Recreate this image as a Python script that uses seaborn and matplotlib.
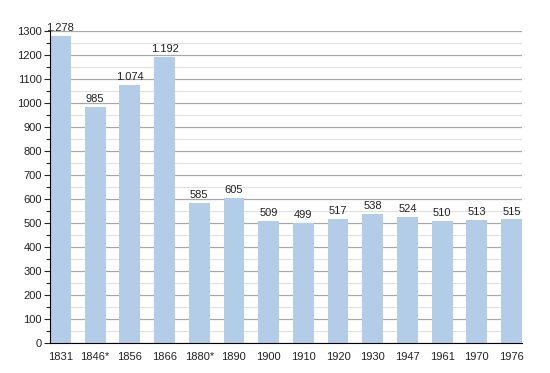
import seaborn as sns
import matplotlib.pyplot as plt
import pandas as pd
from matplotlib.ticker import MultipleLocator

# Population by census year
years = ["1831", "1846*", "1856", "1866", "1880*", "1890", "1900", "1910",
         "1920", "1930", "1947", "1961", "1970", "1976"]
population = [1278, 985, 1074, 1192, 585, 605, 509, 499, 517, 538, 524, 510, 513, 515]

data = pd.DataFrame({"year": years, "pop": population})

sns.set_style("white")
plt.rcParams["font.family"] = ["Liberation Sans", "DejaVu Sans"]

fig = plt.figure(figsize=(5.5, 3.73), dpi=100)
ax = fig.add_axes([0.091, 0.080, 0.858, 0.837])

# grid lines behind bars
ax.set_axisbelow(True)
ax.yaxis.set_major_locator(MultipleLocator(100))
ax.yaxis.set_minor_locator(MultipleLocator(50))
ax.grid(axis="y", which="major", color="#a8a8a8", linewidth=0.9)
ax.grid(axis="y", which="minor", color="#e0e0e0", linewidth=0.8)

sns.barplot(x="year", y="pop", data=data, color="#b3cde8", width=0.6,
            saturation=1, linewidth=0, ax=ax)

for i, v in enumerate(population):
    label = f"{v:,}".replace(",", ".")
    ax.text(i, v + 12, label, ha="center", va="bottom", fontsize=8,
            color="#222222", clip_on=False)

ax.set_ylim(0, 1300)
ax.set_xlim(-0.3, len(years) - 0.7)
ax.set_xlabel("")
ax.set_ylabel("")

for s in ["top", "right"]:
    ax.spines[s].set_visible(False)
ax.spines["left"].set_color("black")
ax.spines["bottom"].set_color("black")

ax.tick_params(axis="y", which="major", left=True, length=4, width=0.8,
               labelsize=8, pad=2, labelcolor="#222222")
ax.tick_params(axis="y", which="minor", left=True, length=3, width=0.8)
ax.tick_params(axis="x", bottom=False, labelsize=8, pad=3, labelcolor="#222222")

fig.savefig("out.png", dpi=100)
